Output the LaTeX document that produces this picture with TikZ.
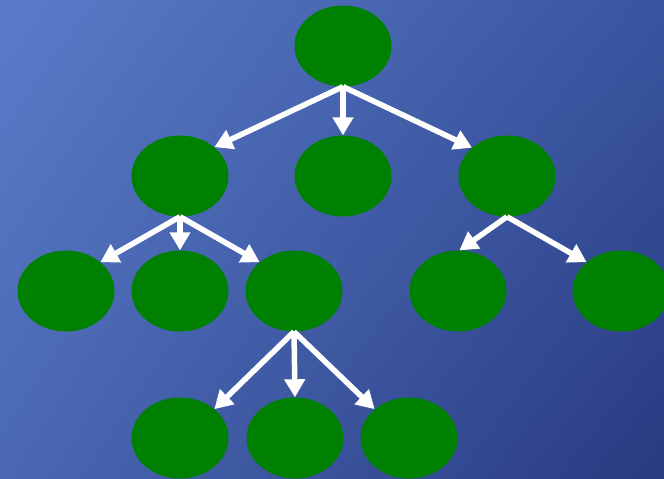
\documentclass[tikz,border=0pt]{standalone}
\usetikzlibrary{arrows.meta,shapes.geometric,shadings}
\definecolor{bgTL}{HTML}{5A7CC8}
\definecolor{bgTR}{HTML}{3A55A0}
\definecolor{bgBL}{HTML}{4A68B4}
\definecolor{bgBR}{HTML}{283A80}
\definecolor{leafgreen}{HTML}{008000}
\tikzset{
  treenode/.style={ellipse, fill=leafgreen, draw=none, minimum width=97pt, minimum height=81pt, inner sep=0pt},
  edge/.style={draw=white, line width=5.5pt, -{Triangle[length=18pt,width=20pt]}}
}
\begin{document}
\begin{tikzpicture}[x=1pt,y=-1pt]
  % background
  \shade[upper left=bgTL, upper right=bgTR, lower left=bgBL, lower right=bgBR] (0,0) rectangle (664,479);
  \useasboundingbox (0,0) rectangle (664,479);
  \begin{scope}
  \clip (0,0) rectangle (664,479);
  % nodes
  \node[treenode] (r)   at (343,46)  {};
  \node[treenode] (a)   at (180,176) {};
  \node[treenode] (b)   at (343,176) {};
  \node[treenode] (c)   at (507,176) {};
  \node[treenode] (a1)  at (66,291)  {};
  \node[treenode] (a2)  at (180,291) {};
  \node[treenode] (a3)  at (294,291) {};
  \node[treenode] (c1)  at (458,291) {};
  \node[treenode] (c2)  at (621,291) {};
  \node[treenode] (d1)  at (180,438) {};
  \node[treenode] (d2)  at (295,438) {};
  \node[treenode] (d3)  at (409,438) {};
  % edges
  \draw[edge] (r.south) -- (a.40);
  \draw[edge] (r.south) -- (b.north);
  \draw[edge] (r.south) -- (c.141);
  \draw[edge] (a.south) -- (a1.40);
  \draw[edge] (a.south) -- (a2.north);
  \draw[edge] (a.south) -- (a3.140);
  \draw[edge] (c.south) -- (c1.88);
  \draw[edge] (c.south) -- (c2.140);
  \draw[edge] (a3.south) -- (d1.40);
  \draw[edge] (a3.south) -- (d2.north);
  \draw[edge] (a3.south) -- (d3.140);
  \end{scope}
\end{tikzpicture}
\end{document}
